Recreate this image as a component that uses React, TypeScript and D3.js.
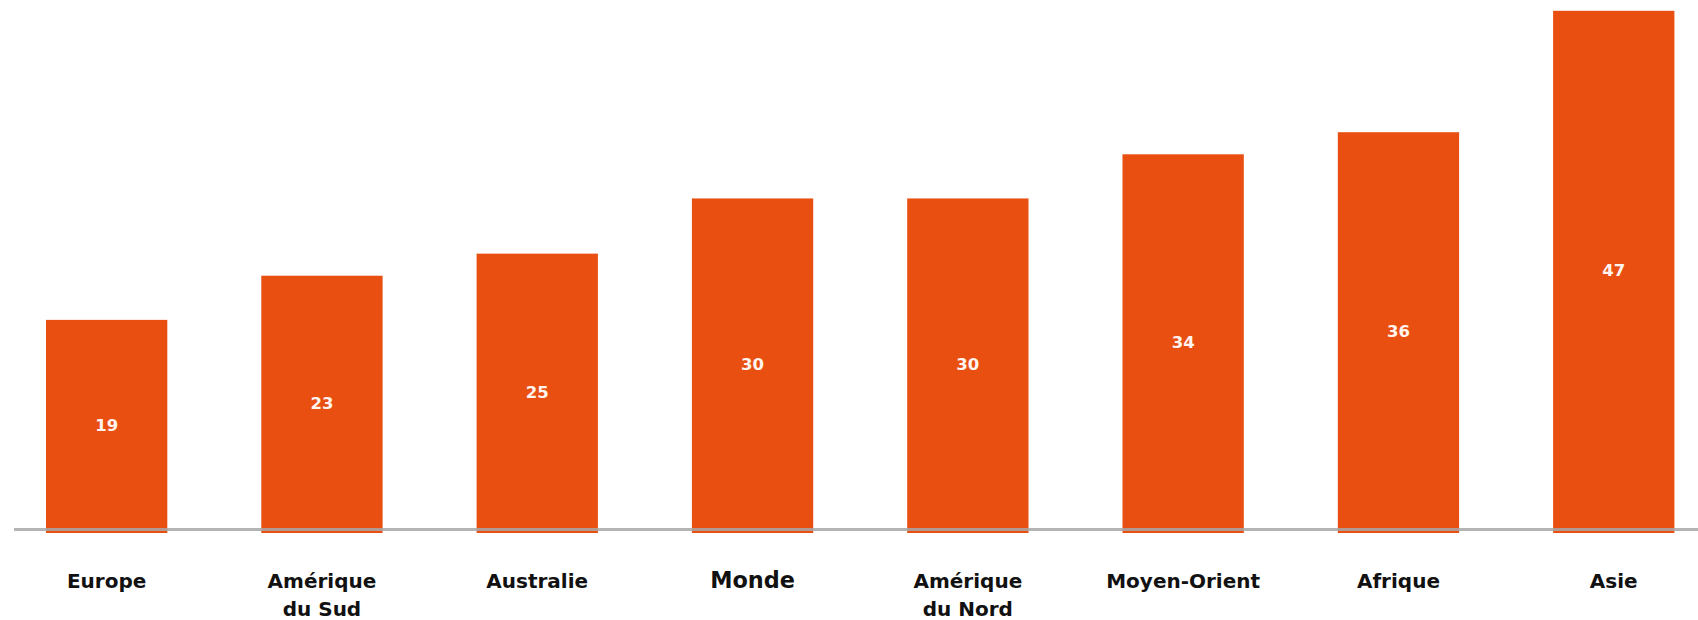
import * as d3 from 'd3';

const regions = ['Europe', 'Amérique du Sud', 'Australie', 'Monde', 'Amérique du Nord', 'Moyen-Orient', 'Afrique', 'Asie'];
const regionLines = [['Europe'], ['Amérique', 'du Sud'], ['Australie'], ['Monde'], ['Amérique', 'du Nord'], ['Moyen-Orient'], ['Afrique'], ['Asie']];
const values = [19, 23, 25, 30, 30, 34, 36, 47];
const highlighted = 'Monde';

const W = 1698;
const H = 620;
const baseY = 529.6;
const barColor = '#e84f10';

export default function App() {
  const x = d3.scaleBand<string>()
    .domain(regions)
    .range([-1, 1721.4])
    .paddingInner(0.4366)
    .paddingOuter(0.2183);

  const y = d3.scaleLinear().domain([0, 47]).range([baseY, 10.8]);

  return (
    <svg
      width={W}
      height={H}
      style={{ position: 'absolute', left: 0, top: 0, background: '#fff' }}
    >
      {/* bars */}
      {regions.map((r, i) => (
        <rect
          key={r}
          x={x(r)}
          y={y(values[i])}
          width={x.bandwidth()}
          height={533 - y(values[i])}
          fill={barColor}
        />
      ))}

      {/* baseline */}
      <line x1={14} x2={W} y1={baseY} y2={baseY} stroke="#a8a8a8" strokeWidth={3} opacity={0.85} />

      {/* value labels in the middle of each bar */}
      {regions.map((r, i) => (
        <text
          key={r + '-v'}
          x={(x(r) as number) + x.bandwidth() / 2}
          y={(y(values[i]) + baseY) / 2}
          dy="0.36em"
          textAnchor="middle"
          fill="#fff4ef"
          fontFamily="DejaVu Sans, Verdana, sans-serif"
          fontWeight="bold"
          fontSize={16.5}
        >
          {values[i]}
        </text>
      ))}

      {/* category labels */}
      {regions.map((r, i) => (
        <text
          key={r + '-c'}
          x={(x(r) as number) + x.bandwidth() / 2}
          y={588}
          textAnchor="middle"
          fill="#111"
          fontFamily="DejaVu Sans, Verdana, sans-serif"
          fontWeight="bold"
          fontSize={r === highlighted ? 22.4 : 20}
        >
          {regionLines[i].map((line, j) => (
            <tspan key={j} x={(x(r) as number) + x.bandwidth() / 2} dy={j === 0 ? 0 : 28}>
              {line}
            </tspan>
          ))}
        </text>
      ))}
    </svg>
  );
}
